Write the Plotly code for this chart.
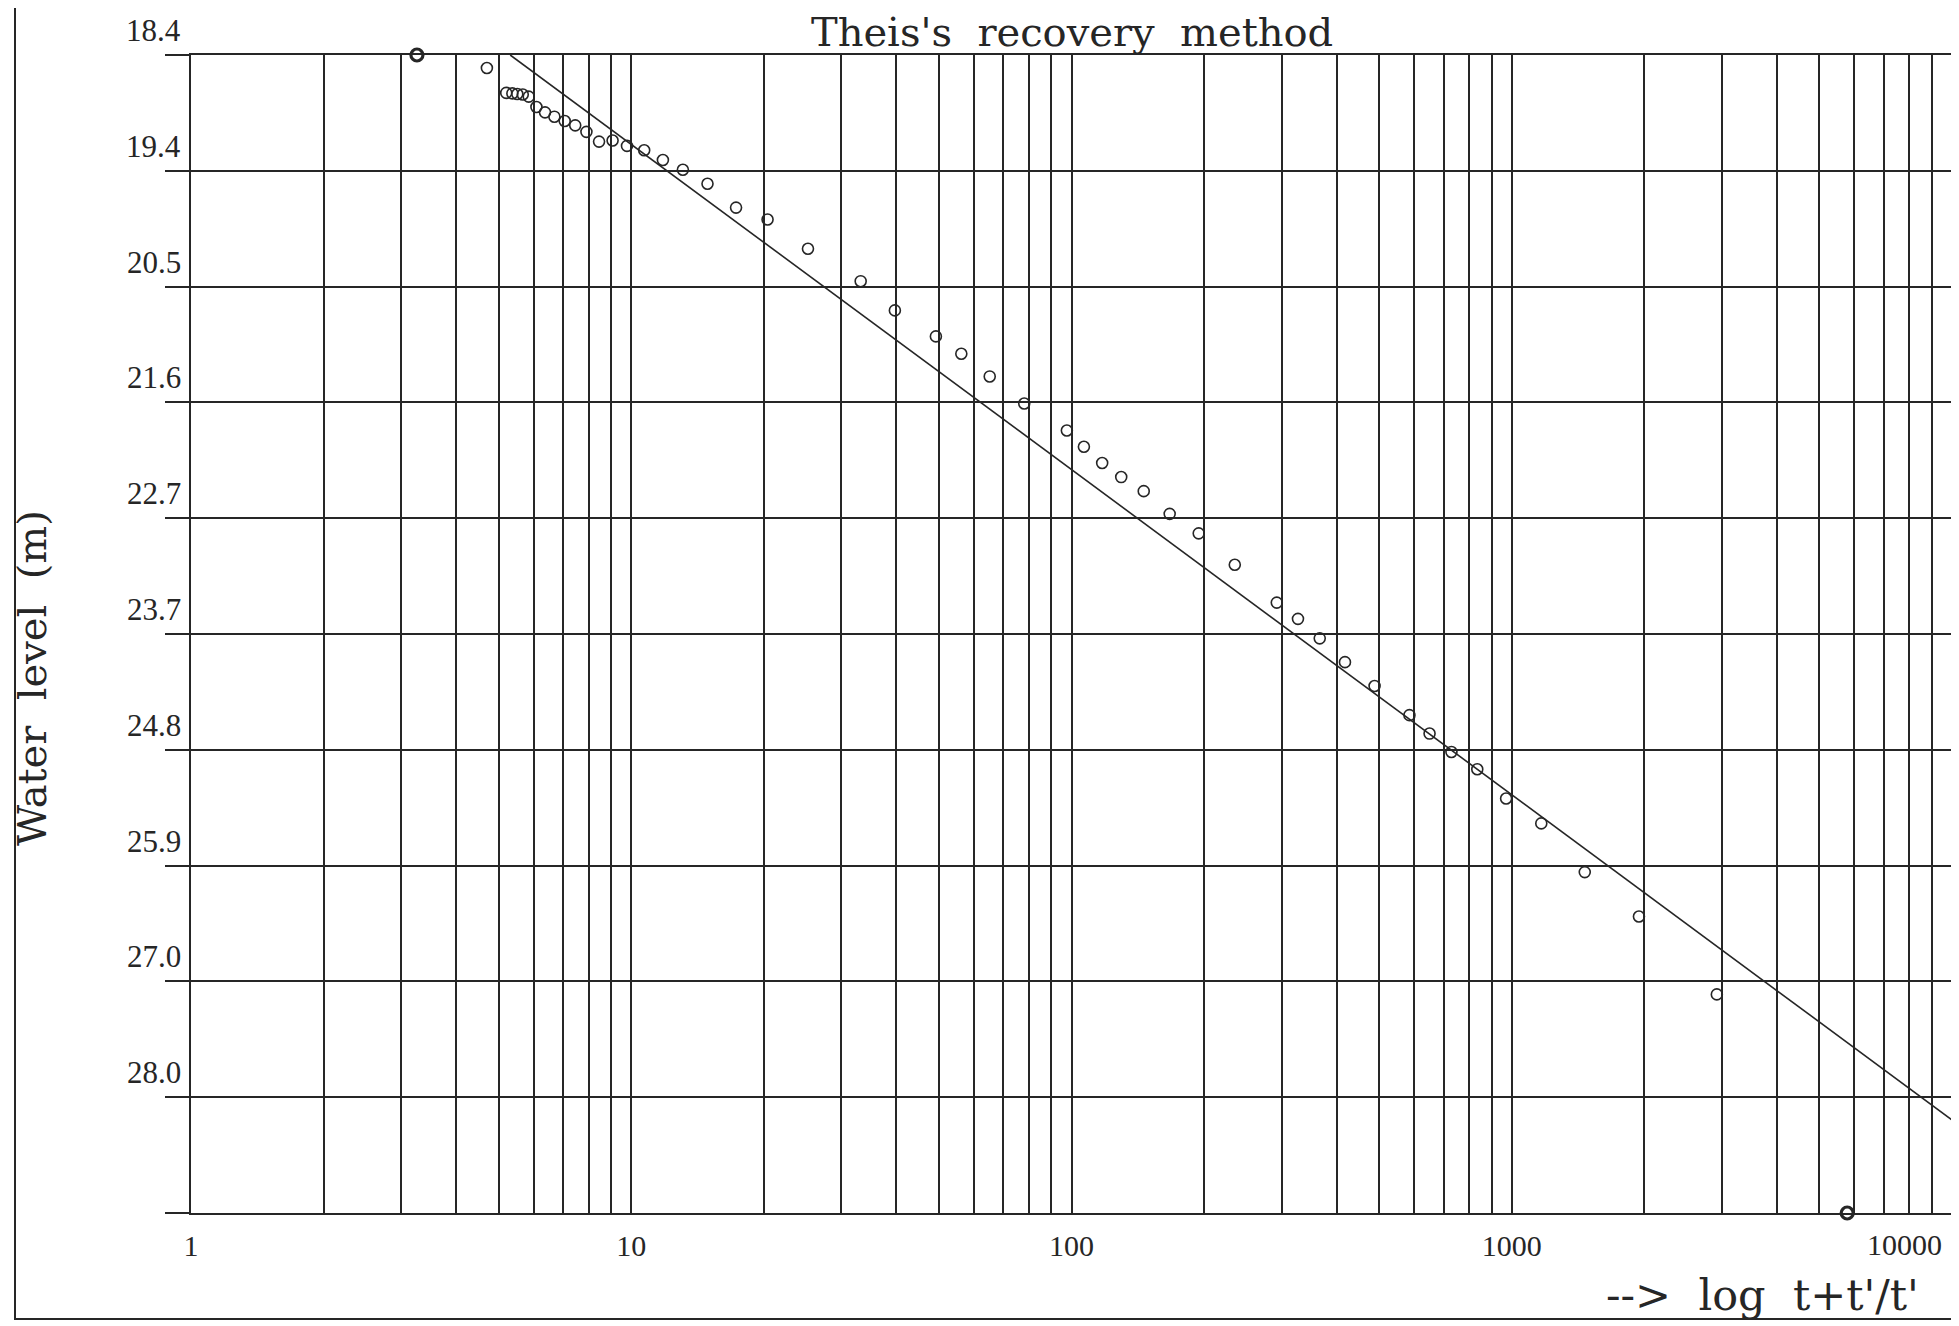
import plotly.graph_objects as go

# ---- data ----
t_ratio = [4.70, 5.20, 5.37, 5.51, 5.67, 5.85, 6.09, 6.37, 6.69, 7.06, 7.46, 7.91,
           8.45, 9.07, 9.78, 10.7, 11.8, 13.1, 14.9, 17.3, 20.4, 25.2, 33.2, 39.7,
           49.2, 56.2, 65.2, 78.1, 97.6, 106.7, 117.4, 129.7, 145.9, 167.1, 194.5,
           234.9, 292.6, 326.9, 366.3, 418.0, 488.0, 585.6, 650.6, 729.5, 835.0,
           970.9, 1167, 1465, 1945, 2923]
water_level = [18.52, 18.75, 18.755, 18.76, 18.765, 18.785, 18.88, 18.93, 18.97, 19.01,
               19.05, 19.11, 19.20, 19.19, 19.24, 19.28, 19.37, 19.46, 19.59, 19.81,
               19.92, 20.19, 20.49, 20.76, 21.00, 21.16, 21.37, 21.62, 21.87, 22.02,
               22.17, 22.30, 22.43, 22.64, 22.82, 23.11, 23.46, 23.61, 23.79, 24.01,
               24.23, 24.50, 24.67, 24.84, 25.00, 25.27, 25.50, 25.95, 26.36, 27.08]
extreme_x = [3.26, 5780]
extreme_y = [18.40, 29.10]
fit_x = [5.31, 10000]
fit_y = [18.40, 28.24]

y_grid = [18.40, 19.47, 20.54, 21.61, 22.68, 23.75, 24.82, 25.89, 26.96, 28.03, 29.10]
y_labels = ["18.4", "19.4", "20.5", "21.6", "22.7", "23.7", "24.8", "25.9", "27.0", "28.0", ""]
x_grid = [1, 2, 3, 4, 5, 6, 7, 8, 9,
          10, 20, 30, 40, 50, 60, 70, 80, 90,
          100, 200, 300, 400, 500, 600, 700, 800, 900,
          1000, 2000, 3000, 4000, 5000, 6000, 7000, 8000, 9000, 10000]
x_label_vals = [1, 10, 100, 1000]
x_labels = ["1", "10", "100", "1000"]
last_x_label = "10000"

title_text = "Theis's  recovery  method"
x_title = "-->  log  t+t'/t'"
y_title = "Water  level  (m)"

INK = "#262626"
OFF = 8  # page body margin of the browser
W, H = 1959 - OFF, 1326 - OFF
PLOT_L, PLOT_T, PLOT_R, PLOT_B = 191, 55, 1952, 1213  # target page pixels
ML, MT = PLOT_L - OFF, PLOT_T - OFF
PW, PH = PLOT_R - PLOT_L, PLOT_B - PLOT_T
MR = W - ML - PW
MB = H - MT - PH


def px(xp):
    return (xp - PLOT_L) / PW


def py(yp):
    return (PLOT_B - yp) / PH


fig = go.Figure()
fig.add_trace(go.Scatter(x=fit_x, y=fit_y, mode="lines",
                         line=dict(color=INK, width=1.6), showlegend=False, hoverinfo="skip"))
fig.add_trace(go.Scatter(x=t_ratio, y=water_level, mode="markers",
                         marker=dict(symbol="circle-open", size=11, color=INK,
                                     line=dict(color=INK, width=1.6)),
                         showlegend=False))
fig.add_trace(go.Scatter(x=extreme_x, y=extreme_y, mode="markers", cliponaxis=False,
                         marker=dict(symbol="circle-open", size=12, color=INK,
                                     line=dict(color=INK, width=3.2)),
                         showlegend=False))

ticktext = [x_labels[x_label_vals.index(v)] if v in x_label_vals else "" for v in x_grid]

fig.update_xaxes(type="log", range=[0, 4], tickmode="array", tickvals=x_grid,
                 ticktext=ticktext, showgrid=True, gridcolor=INK, gridwidth=1.7,
                 zeroline=False, showline=True, linecolor=INK, linewidth=1.7, mirror=True,
                 ticks="", ticklabelstandoff=5, automargin=False,
                 tickfont=dict(family="Liberation Serif", size=30, color=INK))
fig.update_yaxes(range=[29.10, 18.40], tickmode="array", tickvals=y_grid,
                 showticklabels=False, showgrid=True, gridcolor=INK, gridwidth=1.7,
                 zeroline=False, showline=True, linecolor=INK, linewidth=1.7, mirror=True,
                 ticks="outside", ticklen=24, tickwidth=1.7, tickcolor=INK, automargin=False)

annotations = []
for v, lab in zip(y_grid, y_labels):
    if lab:
        annotations.append(dict(xref="paper", yref="y", x=0, y=v, text=lab, showarrow=False,
                                xanchor="right", yanchor="bottom", xshift=-8, yshift=5,
                                font=dict(family="Liberation Serif", size=31, color=INK)))
annotations.append(dict(xref="paper", yref="paper", x=1, y=py(1244),
                        text=last_x_label, showarrow=False, xanchor="right", yanchor="middle",
                        xshift=-8, font=dict(family="Liberation Serif", size=30, color=INK)))
annotations.append(dict(xref="paper", yref="paper", x=0.5, y=1, text=title_text,
                        showarrow=False, xanchor="center", yanchor="bottom", yshift=-2,
                        font=dict(family="DejaVu Serif", size=40, color=INK)))
annotations.append(dict(xref="paper", yref="paper", x=px(1921), y=py(1295), text=x_title,
                        showarrow=False, xanchor="right", yanchor="middle",
                        font=dict(family="DejaVu Serif", size=43, color=INK)))
annotations.append(dict(xref="paper", yref="paper", x=px(32), y=py(678), text=y_title,
                        showarrow=False, textangle=-90, xanchor="center", yanchor="middle",
                        font=dict(family="DejaVu Serif", size=40, color=INK)))

shapes = [dict(type="rect", xref="paper", yref="paper",
               x0=px(15), x1=1.0, y0=py(1319), y1=py(-20),
               line=dict(color=INK, width=2), fillcolor="rgba(0,0,0,0)", layer="above")]

fig.update_layout(width=W, height=H, autosize=False,
                  margin=dict(l=ML, r=MR, t=MT, b=MB, pad=0),
                  paper_bgcolor="white", plot_bgcolor="white",
                  annotations=annotations, shapes=shapes, showlegend=False)

fig.write_html("out.html")
